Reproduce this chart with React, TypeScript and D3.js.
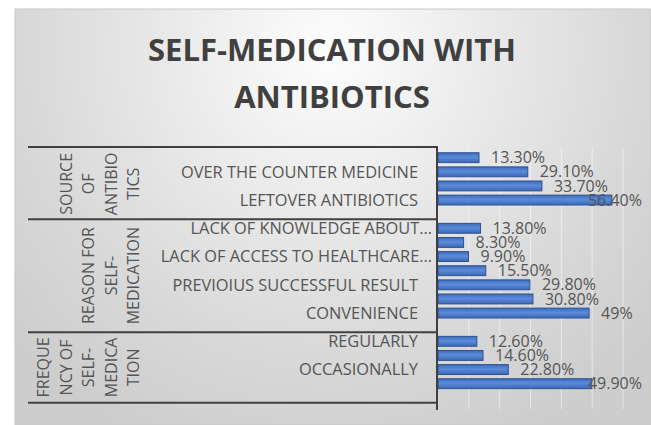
import { useEffect, useRef } from "react";
import * as d3 from "d3";

// one slot per row, null = empty spacer row at the end of each group
const categories = [
  "", "OVER THE COUNTER MEDICINE", "", "LEFTOVER ANTIBIOTICS", "",
  "LACK OF KNOWLEDGE ABOUT…", "", "LACK OF ACCESS TO HEALTHCARE…", "",
  "PREVIOIUS SUCCESSFUL RESULT", "", "CONVENIENCE", "",
  "REGULARLY", "", "OCCASIONALLY", "", "",
];
const values = [
  13.3, 29.1, 33.7, 56.4, null,
  13.8, 8.3, 9.9, 15.5, 29.8, 30.8, 49, null,
  12.6, 14.6, 22.8, 49.9, null,
];
const groupSizes = [5, 8, 5];
const groupLabels = [
  ["SOURCE", "OF", "ANTIBIO", "TICS"],
  ["REASON FOR", "SELF-", "MEDICATION"],
  ["FREQUE", "NCY OF", "SELF-", "MEDICA", "TION"],
];
const xTicks = [10, 20, 30, 40, 50, 60];
const titleLines = ["SELF-MEDICATION WITH", "ANTIBIOTICS"];

const FONT = "'Open Sans', sans-serif";
const TEXT = "#555555";

export default function App() {
  const ref = useRef<SVGSVGElement>(null);

  useEffect(() => {
    if (!ref.current) return;
    const width = 651,
      height = 425;
    const svg = d3.select(ref.current);
    svg.selectAll("*").remove();
    svg.attr("width", width).attr("height", height);

    const defs = svg.append("defs");
    const bg = defs
      .append("radialGradient")
      .attr("id", "bg")
      .attr("gradientUnits", "userSpaceOnUse")
      .attr("cx", 330)
      .attr("cy", 50)
      .attr("r", 430);
    bg.append("stop").attr("offset", "0%").attr("stop-color", "#fdfdfd");
    bg.append("stop").attr("offset", "72%").attr("stop-color", "#d8d8d8");
    bg.append("stop").attr("offset", "100%").attr("stop-color", "#cdcdcd");

    const barGrad = defs
      .append("linearGradient")
      .attr("id", "bar")
      .attr("x1", "0%")
      .attr("y1", "0%")
      .attr("x2", "0%")
      .attr("y2", "100%");
    barGrad.append("stop").attr("offset", "0%").attr("stop-color", "#3d6cbf");
    barGrad.append("stop").attr("offset", "45%").attr("stop-color", "#5b8bd9");
    barGrad.append("stop").attr("offset", "100%").attr("stop-color", "#3c68b8");

    // page + chart area
    svg.append("rect").attr("width", width).attr("height", height).attr("fill", "#fff");
    svg
      .append("rect")
      .attr("x", 15)
      .attr("y", 9)
      .attr("width", width - 15)
      .attr("height", height - 9)
      .attr("fill", "url(#bg)")
      .attr("stroke", "#c8c8c8");

    // title
    svg
      .append("g")
      .selectAll("text")
      .data(titleLines)
      .join("text")
      .attr("x", 332)
      .attr("y", (d, i) => 61 + i * 46.5)
      .attr("text-anchor", "middle")
      .style("font-family", FONT)
      .style("font-weight", "bold")
      .style("font-size", "31px")
      .style("fill", "#404040")
      .text((d) => d);

    const slots = d3.range(categories.length);
    const y = d3.scaleBand<number>().domain(slots).range([148.5, 407]).padding(0.3);
    const x = d3.scaleLinear().domain([0, 60]).range([438, 623]);
    const step = y.step();
    const slotTop = (i: number) => 148.5 + i * step;

    // gridlines
    svg
      .append("g")
      .selectAll("line")
      .data(xTicks)
      .join("line")
      .attr("x1", (d) => x(d))
      .attr("x2", (d) => x(d))
      .attr("y1", 148)
      .attr("y2", 409)
      .attr("stroke", "#ffffff")
      .attr("stroke-opacity", 0.5)
      .attr("stroke-width", 1);

    // bars
    const rows = slots.filter((i) => values[i] != null);
    svg
      .append("g")
      .selectAll("rect")
      .data(rows)
      .join("rect")
      .attr("x", x(0))
      .attr("y", (i) => y(i)!)
      .attr("width", (i) => x(values[i]!) - x(0))
      .attr("height", y.bandwidth())
      .attr("fill", "url(#bar)")
      .attr("stroke", "#2f528f")
      .attr("stroke-width", 1);

    // value labels
    const fmt = (v: number) => (Number.isInteger(v) ? `${v}%` : `${v.toFixed(2)}%`);
    const vl = svg.append("g");
    rows.forEach((i) => {
      const t = vl
        .append("text")
        .attr("x", x(values[i]!) + 12)
        .attr("y", y(i)! + y.bandwidth() / 2)
        .attr("dy", "0.35em")
        .style("font-family", FONT)
        .style("font-size", "16px")
        .style("fill", TEXT)
        .text(fmt(values[i]!));
      const w = (t.node() as SVGTextElement).getComputedTextLength();
      if (x(values[i]!) + 12 + w > 642) t.attr("x", 642 - w);
    });

    // category labels
    svg
      .append("g")
      .selectAll("text")
      .data(slots.filter((i) => categories[i]))
      .join("text")
      .attr("x", (i) => (categories[i].endsWith("…") ? 432 : 418))
      .attr("y", (i) => y(i)! + y.bandwidth() / 2)
      .attr("dy", "0.35em")
      .attr("text-anchor", "end")
      .style("font-family", FONT)
      .style("font-size", "16.4px")
      .style("fill", TEXT)
      .text((i) => categories[i]);

    // group boxes + rotated group labels
    const lines = svg.append("g").attr("stroke", "#404040").attr("stroke-width", 2);
    let start = 0;
    const bounds = [slotTop(0) - 1.5];
    groupSizes.forEach((n, g) => {
      const top = slotTop(start);
      const bottom = slotTop(start + n);
      bounds.push(bottom);
      const cy = (top + bottom) / 2;
      const lbl = groupLabels[g];
      svg
        .append("g")
        .selectAll("text")
        .data(lbl)
        .join("text")
        .attr(
          "transform",
          (d, k) => `translate(${139 - (lbl.length - 1 - k) * 22.5},${cy}) rotate(-90)`
        )
        .attr("text-anchor", "middle")
        .style("font-family", FONT)
        .style("font-size", "16px")
        .style("fill", TEXT)
        .text((d) => d);
      start += n;
    });
    bounds.forEach((b) => {
      lines.append("line").attr("x1", 28).attr("x2", 438).attr("y1", b).attr("y2", b);
    });
    lines
      .append("line")
      .attr("x1", 437)
      .attr("x2", 437)
      .attr("y1", bounds[0] - 1)
      .attr("y2", 410);
  }, []);

  return <svg ref={ref} style={{ position: "absolute", left: 0, top: 0 }} />;
}
